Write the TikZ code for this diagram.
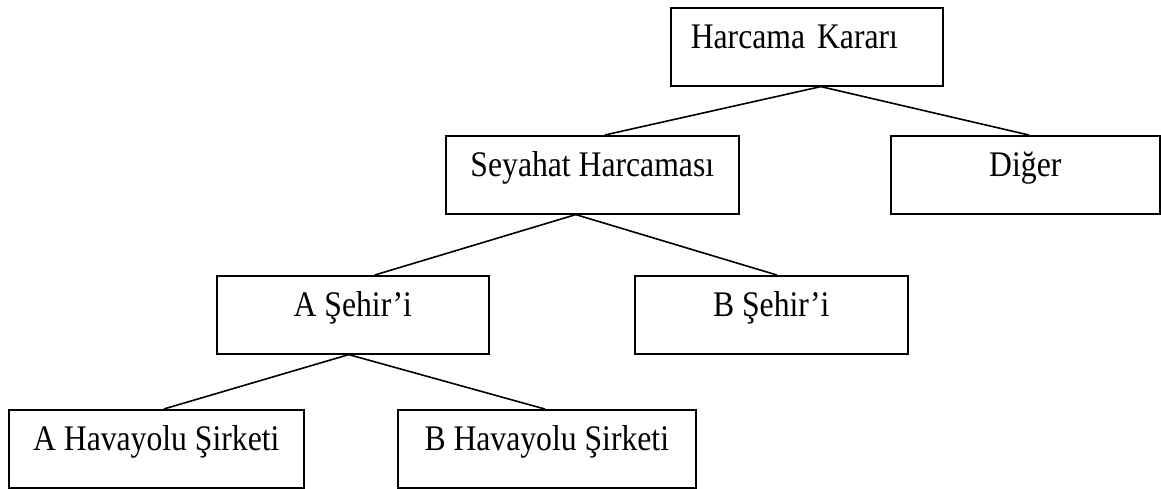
\documentclass[tikz,border=0pt]{standalone}
\usepackage{fontspec}
\setmainfont{Liberation Serif}[FakeStretch=0.88]

\begin{document}
\begin{tikzpicture}[x=1pt, y=-1pt,
    kutu/.style={draw, line width=1.6pt, rectangle, anchor=north west,
      inner xsep=0pt, inner ysep=0pt, text height=41pt, text depth=37pt,
      font=\fontsize{36}{42}\selectfont},
    dal/.style={line width=1.6pt}]
  \useasboundingbox (0,0) rectangle (1161,488);

  % top decision
  \node[kutu, text width=232pt, inner xsep=20pt, align=left] (karar) at (670,7) {Harcama Kararı};
  % second level
  \node[kutu, minimum width=293pt] (seyahat) at (445,135) {Seyahat Harcaması};
  \node[kutu, minimum width=269pt] (diger) at (890,135) {Diğer};
  % cities
  \node[kutu, minimum width=272pt] (asehir) at (216,275) {A Şehir’i};
  \node[kutu, minimum width=273pt] (bsehir) at (634,275) {B Şehir’i};
  % airlines
  \node[kutu, minimum width=295pt] (ahava) at (8,409) {A Havayolu Şirketi};
  \node[kutu, minimum width=298pt] (bhava) at (397,409) {B Havayolu Şirketi};

  % branches
  \draw[dal] ([xshift=14pt]karar.south) -- ([xshift=12.5pt]seyahat.north);
  \draw[dal] ([xshift=14pt]karar.south) -- ([xshift=3.5pt]diger.north);
  \draw[dal] ([xshift=-16.5pt]seyahat.south) -- ([xshift=22pt]asehir.north);
  \draw[dal] ([xshift=-16.5pt]seyahat.south) -- ([xshift=5.5pt]bsehir.north);
  \draw[dal] ([xshift=-4pt]asehir.south) -- ([xshift=7.5pt]ahava.north);
  \draw[dal] ([xshift=-4pt]asehir.south) -- ([xshift=-2pt]bhava.north);
\end{tikzpicture}
\end{document}
